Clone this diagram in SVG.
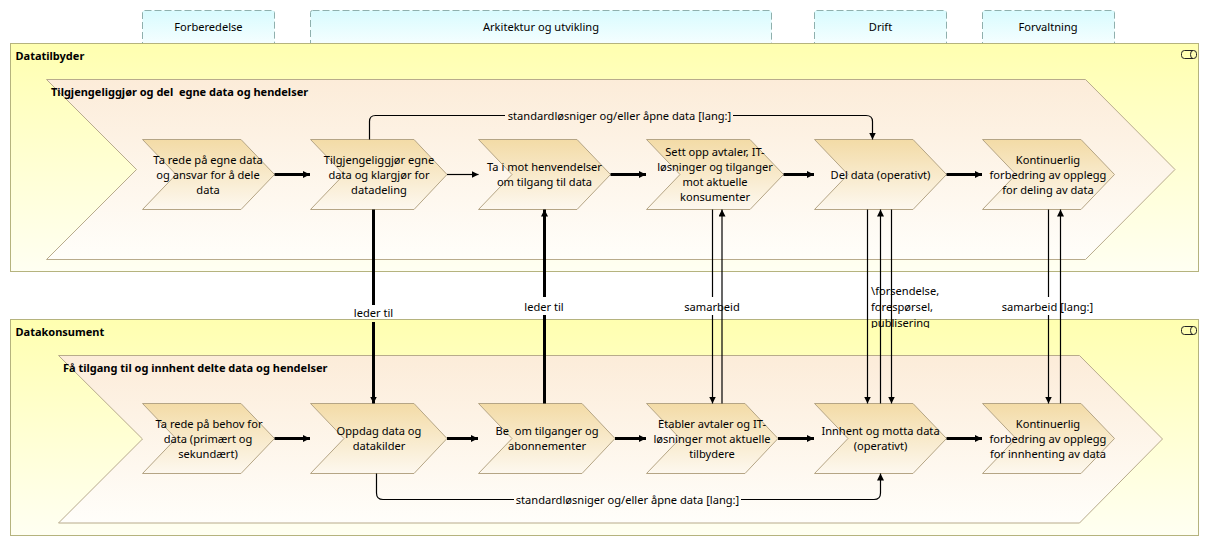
<svg xmlns="http://www.w3.org/2000/svg" width="1209" height="546" viewBox="0 0 1209 546">
<style>
text{font-family:"Noto Sans","Open Sans","Liberation Sans",sans-serif;font-size:11.1px;fill:#000;text-anchor:middle;white-space:pre}
.b{font-weight:bold;text-anchor:start;font-size:11px}
.l{text-anchor:start}
.tab{fill:url(#gt);stroke:#8fb0ad;stroke-dasharray:7 3}
.pool{fill:url(#gp);stroke:#b5b37e}
.big{fill:url(#gb);stroke:#b8ab8c}
.ch{fill:url(#gc);stroke:#b5a585}
.thin{fill:none;stroke:#000;stroke-width:1.2}
.thick{fill:none;stroke:#000;stroke-width:3}
.icon{fill:none;stroke:#222;stroke-width:1}
.a1{marker-end:url(#m1)}
.a3{marker-end:url(#m3)}
</style>
<defs>
<linearGradient id="gt" x1="0" y1="0" x2="0" y2="1"><stop offset="0" stop-color="#d8fbfe"/><stop offset="1" stop-color="#fbffff"/></linearGradient>
<linearGradient id="gp" x1="0" y1="0" x2="0" y2="1"><stop offset="0" stop-color="#ffffb0"/><stop offset="1" stop-color="#fffff2"/></linearGradient>
<linearGradient id="gb" x1="0" y1="0" x2="0" y2="1"><stop offset="0" stop-color="#fcecd9"/><stop offset="1" stop-color="#fffefa"/></linearGradient>
<linearGradient id="gc" x1="0" y1="0" x2="0" y2="1"><stop offset="0" stop-color="#f3dba6"/><stop offset="1" stop-color="#fdf8ef"/></linearGradient>
<marker id="m1" markerUnits="userSpaceOnUse" markerWidth="9" markerHeight="9" refX="7" refY="3.500" orient="auto"><path d="M0 0L7 3.500L0 7Z"/></marker>
<marker id="m3" markerUnits="userSpaceOnUse" markerWidth="9" markerHeight="9" refX="7" refY="3.500" orient="auto"><path d="M0 0L7 3.500L0 7Z"/></marker>
<clipPath id="cf"><rect x="860" y="280" width="80" height="48"/></clipPath>
</defs>

<g id="tab-forberedelse"><rect class="tab" x="142.500" y="10.500" width="132" height="40" rx="2"/><text x="208.500" y="31">Forberedelse</text></g>
<g id="tab-arkitektur"><rect class="tab" x="310.500" y="10.500" width="461" height="40" rx="2"/><text x="541" y="31">Arkitektur og utvikling</text></g>
<g id="tab-drift"><rect class="tab" x="814.500" y="10.500" width="132" height="40" rx="2"/><text x="880.500" y="31">Drift</text></g>
<g id="tab-forvaltning"><rect class="tab" x="982.500" y="10.500" width="132" height="40" rx="2"/><text x="1048" y="31">Forvaltning</text></g>

<g id="pool-datatilbyder"><rect class="pool" x="10.500" y="43.500" width="1188" height="228"/><text class="b" x="15.500" y="60">Datatilbyder</text>
<rect class="icon" x="1181.500" y="50.500" width="15" height="8" rx="3"/><path class="icon" d="M1193 50.500a2.500 4 0 0 0 0 8"/></g>
<g id="pool-datakonsument"><rect class="pool" x="10.500" y="319.500" width="1188" height="216"/><text class="b" x="15.500" y="336">Datakonsument</text>
<rect class="icon" x="1181.500" y="326.500" width="15" height="8" rx="3"/><path class="icon" d="M1193 326.500a2.500 4 0 0 0 0 8"/></g>

<g id="value-stream-top"><polygon class="big" points="46.500,79.500 1085.500,79.500 1175,169.500 1085.500,259.500 46.500,259.500 136.500,169.500"/><text class="b" x="51" y="95.500">Tilgjengeliggjør og del  egne data og hendelser</text></g>
<g id="value-stream-bottom"><polygon class="big" points="58.500,355.500 1079.500,355.500 1162.500,439 1079.500,523 58.500,523 142.500,439"/><text class="b" x="63" y="372">Få tilgang til og innhent delte data og hendelser</text></g>

<g id="n1"><polygon class="ch" points="142.500,139.500 241,139.500 274.500,174.500 241,209.500 142.500,209.500 176,174.500"/><text x="208" y="164">Ta rede på egne data</text><text x="208" y="179">og ansvar for å dele</text><text x="208" y="194">data</text></g>
<g id="n2"><polygon class="ch" points="310.500,139.500 414,139.500 447,174.500 414,209.500 310.500,209.500 344,174.500"/><text x="379" y="164">Tilgjengeliggjør egne</text><text x="379" y="179">data og klargjør for</text><text x="379" y="194">datadeling</text></g>
<g id="n3"><polygon class="ch" points="478.500,139.500 577,139.500 610.500,174.500 577,209.500 478.500,209.500 512,174.500"/><text x="544.500" y="171">Ta i mot henvendelser</text><text x="544.500" y="186">om tilgang til data</text></g>
<g id="n4"><polygon class="ch" points="646.500,139.500 750,139.500 783.500,174.500 750,209.500 646.500,209.500 680,174.500"/><text x="715" y="156">Sett opp avtaler, IT-</text><text x="715" y="171">løsninger og tilganger</text><text x="715" y="186">mot aktuelle</text><text x="715" y="201">konsumenter</text></g>
<g id="n5"><polygon class="ch" points="814.500,139.500 913,139.500 946.500,174.500 913,209.500 814.500,209.500 848,174.500"/><text x="880.500" y="179">Del data (operativt)</text></g>
<g id="n6"><polygon class="ch" points="982.500,139.500 1081,139.500 1114.500,174.500 1081,209.500 982.500,209.500 1016,174.500"/><text x="1048" y="164">Kontinuerlig</text><text x="1048" y="179">forbedring av opplegg</text><text x="1048" y="194">for deling av data</text></g>

<g id="n7"><polygon class="ch" points="142.500,403.500 241,403.500 274.500,438.500 241,473.500 142.500,473.500 176,438.500"/><text x="209" y="428">Ta rede på behov for</text><text x="208" y="443">data (primært og</text><text x="208" y="458">sekundært)</text></g>
<g id="n8"><polygon class="ch" points="310.500,403.500 414,403.500 447,438.500 414,473.500 310.500,473.500 344,438.500"/><text x="379" y="435">Oppdag data og</text><text x="379" y="450">datakilder</text></g>
<g id="n9"><polygon class="ch" points="478.500,403.500 582,403.500 615,438.500 582,473.500 478.500,473.500 512,438.500"/><text x="547" y="435">Be  om tilganger og</text><text x="547" y="450">abonnementer</text></g>
<g id="n10"><polygon class="ch" points="646.500,403.500 745,403.500 778,438.500 745,473.500 646.500,473.500 680,438.500"/><text x="712" y="428">Etabler avtaler og IT-</text><text x="712" y="443">løsninger mot aktuelle</text><text x="712" y="458">tilbydere</text></g>
<g id="n11"><polygon class="ch" points="814.500,403.500 913,403.500 946.500,438.500 913,473.500 814.500,473.500 848,438.500"/><text x="880.500" y="435">Innhent og motta data</text><text x="880.500" y="450">(operativt)</text></g>
<g id="n12"><polygon class="ch" points="982.500,403.500 1081,403.500 1114.500,438.500 1081,473.500 982.500,473.500 1016,438.500"/><text x="1048" y="428">Kontinuerlig</text><text x="1048" y="443">forbedring av opplegg</text><text x="1048" y="458">for innhenting av data</text></g>

<g id="connectors">
<path class="thick a3" d="M274.500 174.500H310"/>
<path class="thin a1" d="M447 174.500H478.500"/>
<path class="thick a3" d="M610.500 174.500H646"/>
<path class="thick a3" d="M783.500 174.500H814"/>
<path class="thick a3" d="M946.500 174.500H982"/>
<path class="thick a3" d="M274.500 438.500H310"/>
<path class="thick a3" d="M447 438.500H478"/>
<path class="thick a3" d="M615 438.500H646"/>
<path class="thick a3" d="M778 438.500H814"/>
<path class="thick a3" d="M946.500 438.500H982"/>

<path class="thin" d="M369.500 139.500V121.500Q369.500 115.500 375.500 115.500H505"/>
<path class="thin a1" d="M733 115.500H866Q872.500 115.500 872.500 121.500V139.500"/>
<text x="619.500" y="120">standardløsniger og/eller åpne data [lang:]</text>
<path class="thin" d="M376.500 473.500V493Q376.500 499.500 383 499.500H514"/>
<path class="thin a1" d="M741 499.500H874Q880.500 499.500 880.500 493V473.500"/>
<text x="627.500" y="504">standardløsniger og/eller åpne data [lang:]</text>

<path class="thick" d="M373.500 209.500V305"/>
<path class="thick a3" d="M373.500 322V403.500"/>
<text x="373.500" y="317">leder til</text>
<path class="thick" d="M544.500 403.500V315"/>
<path class="thick a3" d="M544.500 297V209.500"/>
<text x="544" y="311">leder til</text>

<path class="thin" d="M712.500 209.500V297"/>
<path class="thin a1" d="M712.500 315V403.500"/>
<path class="thin a1" d="M722 403.500V209.500"/>
<text x="712" y="311">samarbeid</text>

<path class="thin a1" d="M867.500 209.500V403.500"/>
<path class="thin a1" d="M880.500 403.500V209.500"/>
<path class="thin a1" d="M891.500 209.500V403.500"/>
<g clip-path="url(#cf)"><text class="l" x="871" y="294.500">\forsendelse,</text><text class="l" x="871" y="310.500">forespørsel,</text><text class="l" x="871" y="326.500">publisering</text></g>

<path class="thin" d="M1048.500 209.500V297"/>
<path class="thin a1" d="M1048.500 315V403.500"/>
<path class="thin a1" d="M1060.500 403.500V209.500"/>
<text x="1047.500" y="311">samarbeid [lang:]</text>
</g>
</svg>
